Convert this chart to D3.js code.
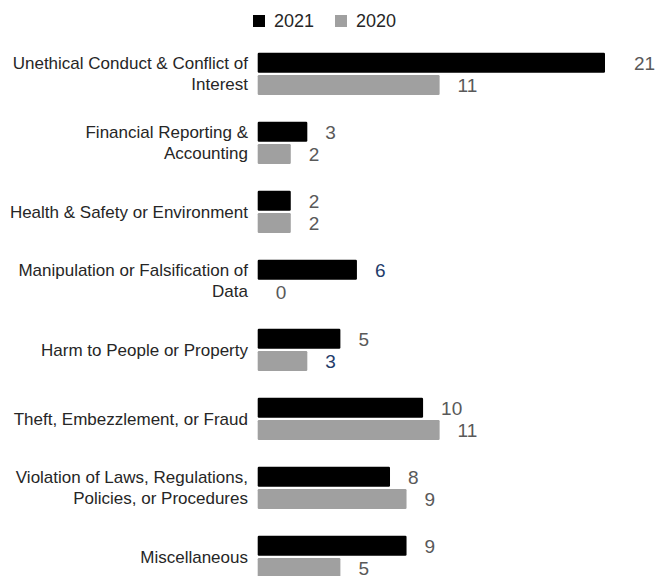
<!DOCTYPE html>
<html><head><meta charset="utf-8">
<script src="https://cdn.jsdelivr.net/npm/d3@7"></script>
<style>body{margin:0;background:#fff}svg{display:block;font-family:"Liberation Sans",Arial,sans-serif}</style>
</head><body><svg id="c" width="657" height="576"></svg>
<script>
const categories = [
  "Unethical Conduct & Conflict of\nInterest",
  "Financial Reporting &\nAccounting",
  "Health & Safety or Environment",
  "Manipulation or Falsification of\nData",
  "Harm to People or Property",
  "Theft, Embezzlement, or Fraud",
  "Violation of Laws, Regulations,\nPolicies, or Procedures",
  "Miscellaneous"
];
const seriesNames = ["2021", "2020"];
const values2021 = [21, 3, 2, 6, 5, 10, 8, 9];
const values2020 = [11, 2, 2, 0, 3, 11, 9, 5];
const seriesColors = ["#000000", "#a0a0a0"];
// label colours (blue highlight on a few labels as in the original)
const labelColors2021 = ["#595959","#595959","#595959","#1f3d6b","#595959","#595959","#595959","#595959"];
const labelColors2020 = ["#595959","#595959","#595959","#595959","#1f3d6b","#595959","#595959","#595959"];

const svg = d3.select("#c");
const y0 = d3.scaleBand().domain(categories).range([39.35, 591.35]).paddingInner(0.387).paddingOuter(0.1935);
const y1 = d3.scaleBand().domain(seriesNames).range([0, y0.bandwidth()]).paddingInner(0.104);
const x = d3.scaleLinear().domain([0, 21]).range([257.7, 605]);

const data = categories.map((c, i) => ({
  c,
  vals: [
    {s: "2021", v: values2021[i], lc: labelColors2021[i]},
    {s: "2020", v: values2020[i], lc: labelColors2020[i]}
  ]
}));
const maxV = d3.max(values2021.concat(values2020));

const g = svg.selectAll("g.grp").data(data).join("g").attr("class","grp")
  .attr("transform", d => `translate(0,${y0(d.c)})`);

g.selectAll("rect").data(d => d.vals).join("rect")
  .attr("x", x(0))
  .attr("y", d => y1(d.s))
  .attr("width", d => Math.max(0, x(d.v) - x(0)))
  .attr("height", y1.bandwidth())
  .attr("rx", 1.2)
  .attr("fill", d => seriesColors[seriesNames.indexOf(d.s)]);

g.selectAll("text.val").data(d => d.vals).join("text").attr("class","val")
  .attr("x", d => x(d.v) + (d.v === maxV ? 29 : 18))
  .attr("y", d => y1(d.s) + y1.bandwidth()/2)
  .attr("dy", "0.36em")
  .attr("font-size", 19)
  .attr("fill", d => d.lc)
  .text(d => d.v);

// category labels
g.each(function(d) {
  const lines = d.c.split("\n");
  const t = d3.select(this).append("text")
    .attr("text-anchor", "end")
    .attr("font-size", 17)
    .attr("fill", "#262626");
  const lh = 21;
  const cy = y0.bandwidth()/2;
  lines.forEach((ln, k) => {
    t.append("tspan").attr("x", 248)
      .attr("y", cy + (k - (lines.length-1)/2) * lh)
      .attr("dy", "0.35em").text(ln);
  });
});

// legend
const leg = svg.append("g");
const legX = [253, 335];
seriesNames.forEach((s, i) => {
  leg.append("rect").attr("x", legX[i]).attr("y", 15).attr("width", 12).attr("height", 12)
    .attr("fill", seriesColors[i]);
  leg.append("text").attr("x", legX[i] + 21).attr("y", 21).attr("dy", "0.35em")
    .attr("font-size", 18).attr("fill", "#262626").text(s);
});
</script></body></html>
